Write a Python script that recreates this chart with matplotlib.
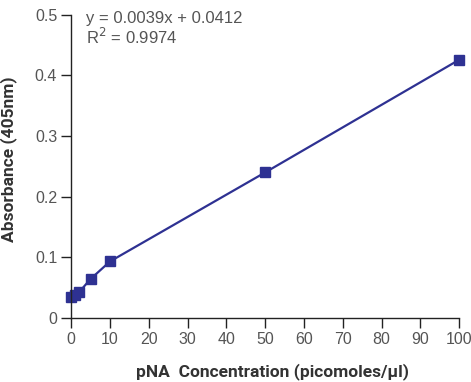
import matplotlib
matplotlib.use("Agg")
import matplotlib.pyplot as plt

# standard curve data
conc = [0, 1, 2, 5, 10, 50, 100]
absorb = [0.035, 0.038, 0.042, 0.064, 0.093, 0.240, 0.426]
x_ticks = [0, 10, 20, 30, 40, 50, 60, 70, 80, 90, 100]
y_ticks = [0, 0.1, 0.2, 0.3, 0.4, 0.5]
y_labels = ["0", "0.1", "0.2", "0.3", "0.4", "0.5"]

navy = "#2E3192"
grey = "#555555"

fig = plt.figure(figsize=(4.71, 3.82), dpi=100)
ax = fig.add_axes([0.151, 0.168, 0.824, 0.793])

ax.plot(conc, absorb, color=navy, lw=1.6, marker="s", ms=7, mfc=navy, mec=navy)

ax.set_xlim(0, 100)
ax.set_ylim(0, 0.5)
ax.set_xticks(x_ticks)
ax.set_yticks(y_ticks)
ax.set_yticklabels(y_labels)

for s in ["top", "right"]:
    ax.spines[s].set_visible(False)
for s in ["left", "bottom"]:
    ax.spines[s].set_color("#222222")
    ax.spines[s].set_linewidth(1.0)
ax.tick_params(length=7, width=1.0, color="#222222", labelcolor=grey, labelsize=11.5)
ax.tick_params(axis="x", pad=3)
ax.tick_params(axis="y", pad=3)
for lbl in ax.get_xticklabels() + ax.get_yticklabels():
    lbl.set_fontfamily("Liberation Sans")

ax.set_xlabel("pNA  Concentration (picomoles/\u03bcl)", fontsize=12.5, fontweight="bold",
              color="#333333", fontfamily="Roboto")
ax.set_ylabel("Absorbance (405nm)", fontsize=12.5, fontweight="bold", color="#333333",
              fontfamily="Roboto")
ax.xaxis.set_label_coords(0.519, -0.148)
ax.yaxis.set_label_coords(-0.14, 0.525)

ax.text(3.9, 0.507, "y = 0.0039x + 0.0412\nR$^2$ = 0.9974", fontsize=12, color=grey,
        va="top", ha="left", linespacing=1.05, fontfamily="Liberation Sans")

for line in ax.lines:
    line.set_clip_on(False)

fig.savefig("out.png", dpi=100)
